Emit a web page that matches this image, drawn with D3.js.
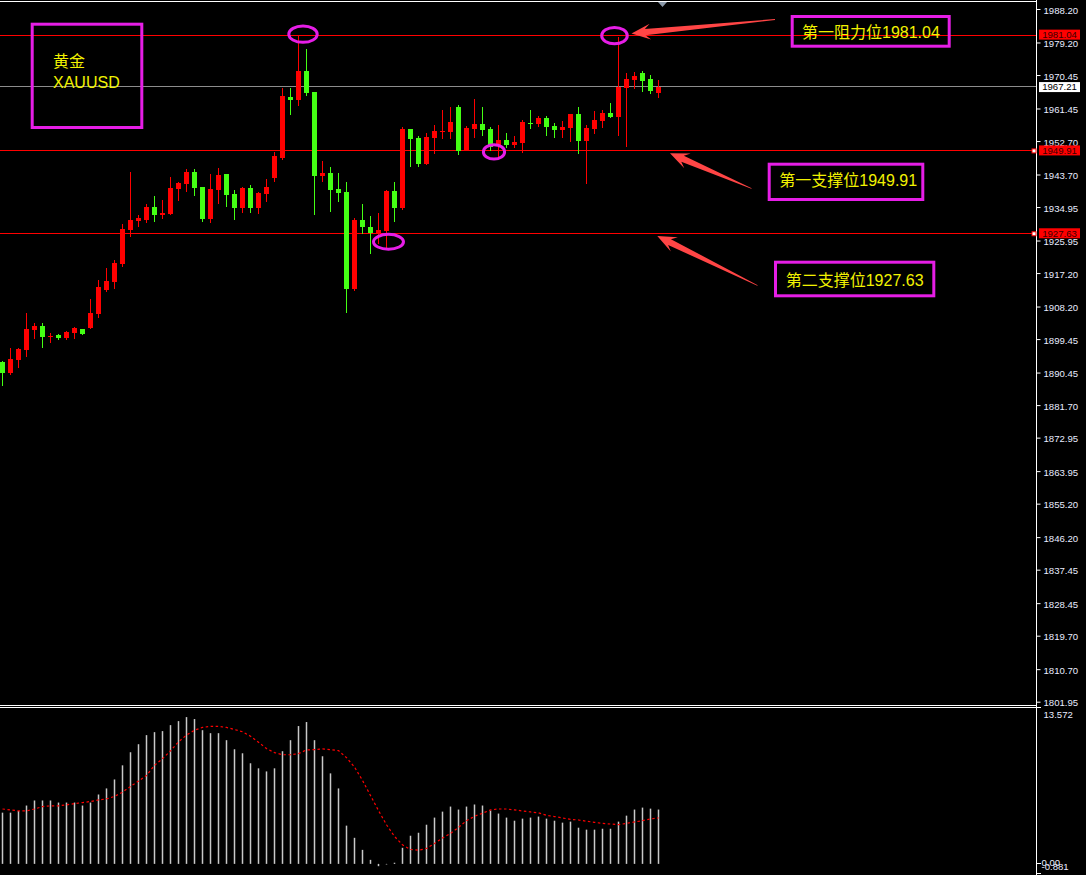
<!DOCTYPE html>
<html><head><meta charset="utf-8">
<script src="https://cdn.jsdelivr.net/npm/d3@7"></script>
<style>html,body{margin:0;padding:0;background:#000;overflow:hidden}</style>
</head><body><svg id="c" width="1086" height="875" xmlns="http://www.w3.org/2000/svg"></svg>
<script>
// ---- data ----
const opens  = [1893.3,1890.4,1893.9,1896.5,1901.9,1903.0,1900.0,1900.55,1899.8,1901.1,1902.2,1902.5,1906.3,1912.65,1914.8,1919.6,1928.8,1931.2,1931.5,1934.96,1932.8,1933.1,1939.8,1941.15,1944.4,1940.3,1931.7,1939.5,1943.8,1938.45,1934.7,1940.1,1934.7,1938.45,1942.76,1948.1,1964.5,1963.7,1971.5,1965.9,1943.3,1944.1,1939.8,1939.0,1912.9,1931.5,1929.6,1928.0,1928.5,1939.3,1934.7,1955.9,1953.5,1946.5,1953.5,1955.1,1955.1,1961.85,1950.0,1955.9,1957.3,1955.9,1951.6,1953.0,1951.6,1952.2,1957.55,1957.3,1958.9,1956.7,1955.7,1956.2,1960.0,1952.7,1955.9,1958.1,1960.2,1959.2,1966.96,1969.1,1971.0,1969.4,1965.6];
const highs  = [1893.6,1897.05,1897.05,1906.5,1903.8,1903.8,1901.1,1900.9,1901.6,1902.7,1902.2,1910.2,1915.3,1918.6,1920.7,1930.4,1944.4,1932.8,1935.8,1937.9,1936.85,1943.0,1941.7,1945.2,1945.2,1940.3,1943.8,1945.4,1943.8,1939.5,1940.3,1940.9,1939.0,1942.5,1949.75,1966.96,1966.96,1981.2,1977.4,1965.9,1947.3,1945.7,1944.1,1941.7,1932.0,1935.8,1932.5,1933.3,1939.5,1941.7,1956.5,1955.9,1954.05,1954.9,1957.0,1961.05,1961.85,1962.4,1956.7,1964.0,1961.85,1956.5,1957.0,1954.9,1954.05,1958.4,1961.05,1959.4,1959.4,1957.55,1958.1,1960.0,1961.85,1957.0,1960.8,1961.05,1962.9,1980.6,1971.0,1971.3,1971.5,1970.5,1969.1];
const lows   = [1886.8,1889.8,1891.8,1894.6,1899.5,1897.05,1898.4,1899.3,1899.3,1899.5,1900.55,1902.2,1905.2,1912.2,1912.9,1918.8,1926.9,1929.6,1930.7,1930.9,1931.7,1932.8,1936.6,1939.0,1937.9,1930.9,1930.65,1935.8,1934.96,1931.5,1933.3,1933.3,1933.1,1936.3,1941.7,1947.6,1959.7,1962.1,1964.8,1932.8,1941.7,1933.6,1936.3,1906.5,1912.4,1927.7,1922.3,1925.0,1923.4,1930.9,1934.15,1945.7,1945.7,1946.3,1949.2,1953.25,1953.25,1948.95,1950.0,1953.5,1954.05,1950.0,1948.1,1950.8,1950.8,1949.5,1955.9,1956.5,1954.05,1953.5,1953.5,1952.4,1949.2,1941.15,1954.6,1956.2,1958.9,1954.05,1951.1,1966.7,1965.9,1965.35,1964.3];
const closes = [1890.4,1894.1,1896.8,1902.2,1903.0,1900.0,1900.4,1899.8,1901.35,1902.4,1900.9,1906.5,1913.45,1915.1,1919.9,1929.05,1931.5,1932.0,1934.96,1932.8,1933.35,1940.1,1941.4,1944.4,1940.1,1931.7,1939.8,1943.56,1938.2,1934.7,1940.1,1934.7,1938.7,1940.3,1948.7,1964.8,1963.7,1971.5,1965.6,1943.3,1944.1,1939.5,1938.7,1912.9,1931.5,1929.6,1928.0,1928.8,1939.3,1934.7,1955.9,1953.2,1946.5,1953.8,1955.4,1955.4,1957.8,1950.0,1956.2,1957.3,1955.7,1951.1,1953.0,1951.6,1952.4,1957.8,1957.4,1958.9,1956.5,1955.7,1956.5,1959.97,1952.7,1956.2,1958.4,1960.2,1959.2,1967.2,1969.4,1970.2,1968.8,1966.15,1967.21];

const macdHist   = [4.46,4.46,4.61,5.08,5.52,5.52,5.52,5.34,5.34,5.34,5.08,5.34,6.04,6.57,7.35,8.58,9.72,10.42,11.21,11.47,11.56,12.08,12.43,12.78,12.61,11.64,11.38,11.38,10.77,9.98,9.63,8.76,8.32,8.05,8.32,9.81,10.77,12.0,12.35,10.77,9.37,7.88,6.57,3.33,2.27,1.22,0.35,-0.2,-0.05,0.1,1.4,2.45,2.71,3.41,4.03,4.55,4.99,4.73,4.99,5.17,5.08,4.64,4.38,4.03,3.76,3.94,4.03,4.12,3.94,3.76,3.59,3.68,3.15,2.98,2.98,3.06,3.06,3.68,4.2,4.73,4.9,4.81,4.73];
const macdSignal = [4.78,4.70,4.61,4.61,4.78,4.99,5.05,5.05,5.14,5.25,5.34,5.43,5.57,5.66,5.87,6.25,6.74,7.21,7.7,8.58,9.16,9.84,10.62,11.21,11.64,11.88,11.97,11.97,11.88,11.7,11.5,11.12,10.59,10.04,9.69,9.5,9.5,9.6,9.92,9.95,10.01,9.95,9.86,9.25,8.43,7.27,5.95,4.64,3.41,2.39,1.66,1.25,1.19,1.34,1.78,2.25,2.66,3.18,3.76,4.14,4.41,4.7,4.78,4.78,4.7,4.61,4.52,4.44,4.23,4.12,4.0,3.88,3.82,3.71,3.62,3.53,3.47,3.41,3.53,3.65,3.76,3.91,4.0];

const priceTicks = [1988.20,1979.20,1970.45,1961.45,1952.70,1943.70,1934.95,1925.95,1917.20,1908.20,1899.45,1890.45,1881.70,1872.95,1863.95,1855.20,1846.20,1837.45,1828.45,1819.70,1810.70,1801.95];
const macdTicks = [13.572, 0, -0.881];
const macdTickLabels = ["13.572","0.00","-0.881"];
const levels = [1981.04, 1949.91, 1927.63];
const levelNames = ["第一阻力位", "第一支撑位", "第二支撑位"];
const lastPrice = 1967.21;
const titleLines = ["黄金", "XAUUSD"];

// ---- scales ----
const n = closes.length;
const x = d3.scaleLinear().domain([0, n - 1]).range([2.5, 2.5 + 8 * (n - 1)]);
const y = d3.scaleLinear().domain([1801.95, 1988.2]).range([701.7, 9]);
const ym = d3.scaleLinear().domain([-0.881, 13.572]).range([874, 708]);

const svg = d3.select("#c");
svg.append("rect").attr("width",1086).attr("height",875).attr("fill","#000");

const UP = "#ff0000", DOWN = "#44ff14", MAG = "#e61ee6", YEL = "#f2f200", ARROW = "#ff4545";
const AX = 1036;

// frame lines
const frame = svg.append("g").attr("shape-rendering","crispEdges");
frame.append("line").attr("x1",0).attr("x2",AX).attr("y1",1.5).attr("y2",1.5).attr("stroke","#fff");
frame.append("line").attr("x1",0).attr("x2",AX).attr("y1",705.5).attr("y2",705.5).attr("stroke","#fff");
frame.append("line").attr("x1",0).attr("x2",AX).attr("y1",707.5).attr("y2",707.5).attr("stroke","#fff");
frame.append("line").attr("x1",AX+0.5).attr("x2",AX+0.5).attr("y1",0).attr("y2",875).attr("stroke","#fff");

// shift triangle
svg.append("path").attr("d", d3.line()([[658,2],[667,2],[662.5,7]])+"Z").attr("fill","#8a98a8");

// level lines
const lv = svg.append("g").attr("shape-rendering","crispEdges");
lv.selectAll("line.lvl").data(levels).join("line")
  .attr("x1",0).attr("x2",AX).attr("y1",d=>Math.round(y(d))-0.5).attr("y2",d=>Math.round(y(d))-0.5)
  .attr("stroke","#ff0000");
lv.append("line").attr("x1",0).attr("x2",AX)
  .attr("y1",Math.round(y(lastPrice))-0.5).attr("y2",Math.round(y(lastPrice))-0.5).attr("stroke","#8c8c8c");

// candles
const idx = d3.range(n);
const cg = svg.append("g").attr("shape-rendering","crispEdges");
cg.selectAll("line.wick").data(idx).join("line")
  .attr("x1",i=>x(i)).attr("x2",i=>x(i))
  .attr("y1",i=>y(highs[i])).attr("y2",i=>y(lows[i]))
  .attr("stroke",i=>closes[i]>=opens[i]?UP:DOWN).attr("stroke-width",1);
cg.selectAll("rect.body").data(idx).join("rect")
  .attr("x",i=>x(i)-2.5).attr("width",5)
  .attr("y",i=>y(Math.max(opens[i],closes[i])))
  .attr("height",i=>Math.max(1.2, y(Math.min(opens[i],closes[i]))-y(Math.max(opens[i],closes[i]))))
  .attr("fill",i=>closes[i]>=opens[i]?UP:DOWN);

// MACD histogram
const mg = svg.append("g");
mg.selectAll("line").data(idx).join("line")
  .attr("x1",i=>x(i)).attr("x2",i=>x(i))
  .attr("y1",ym(0)).attr("y2",i=>ym(macdHist[i]))
  .attr("stroke","#c8c8c8").attr("stroke-width",1.5);
svg.append("path").datum(idx)
  .attr("d", d3.line().x(i=>x(i)).y(i=>ym(macdSignal[i])))
  .attr("fill","none").attr("stroke","#ff0000").attr("stroke-width",1.2).attr("stroke-dasharray","2.5,2.5");

// price axis
const axisG = svg.append("g").attr("transform",`translate(${AX+0.5},0)`)
  .call(d3.axisRight(y).tickValues(priceTicks).tickSize(4).tickPadding(3).tickFormat(d3.format(".2f")));
axisG.select(".domain").remove();
axisG.selectAll(".tick line").attr("stroke","#fff");
axisG.selectAll(".tick text").attr("fill","#e8ecff").attr("font-family","Liberation Sans, Arial, sans-serif").attr("font-size","9.6px").attr("dy","0.42em");

// macd axis labels
const mAx = svg.append("g").attr("transform",`translate(${AX+0.5},0)`);
const mOff = [7, -1, -7.5];
macdTicks.forEach((v,k)=>{
  mAx.append("line").attr("x1",0).attr("x2",4).attr("y1",Math.round(ym(v))-0.5).attr("y2",Math.round(ym(v))-0.5).attr("stroke","#fff").attr("shape-rendering","crispEdges");
  mAx.append("text").attr("x", k===0?7:5).attr("y", ym(v)+mOff[k]).attr("dy","0.35em")
    .attr("fill","#e8ecff").attr("font-family","Liberation Sans, Arial, sans-serif").attr("font-size","9.6px").text(macdTickLabels[k]);
});

// level price labels on axis
const lab = svg.append("g");
levels.forEach(v=>{
  lab.append("rect").attr("x",1039).attr("y",y(v)-6).attr("width",41).attr("height",10).attr("fill","#ff0000");
  lab.append("text").attr("x",1059.5).attr("y",y(v)-1).attr("dy","0.35em").attr("text-anchor","middle")
    .attr("fill","#3a0000").attr("font-family","Liberation Sans, Arial, sans-serif").attr("font-size","9.6px").text(v.toFixed(2));
});
lab.append("rect").attr("x",1039).attr("y",y(lastPrice)-5).attr("width",41).attr("height",10).attr("fill","#ffffff");
lab.append("text").attr("x",1059.5).attr("y",y(lastPrice)).attr("dy","0.35em").attr("text-anchor","middle")
  .attr("fill","#000").attr("font-family","Liberation Sans, Arial, sans-serif").attr("font-size","9.6px").text(lastPrice.toFixed(2));
[levels[1], levels[2]].forEach(v=>{
  lab.append("rect").attr("x",1032).attr("y",y(v)-2.5).attr("width",4).attr("height",4)
    .attr("fill","#fff").attr("stroke","#ff0000").attr("stroke-width",1);
});

// annotations
const an = svg.append("g");
an.append("rect").attr("x",32.2).attr("y",24.2).attr("width",109.6).attr("height",103.3)
  .attr("fill","none").attr("stroke",MAG).attr("stroke-width",3);
an.append("text").attr("x",53).attr("y",67).attr("fill",YEL).attr("font-family","Liberation Sans, Noto Sans CJK SC, sans-serif").attr("font-size","16px").text(titleLines[0]);
an.append("text").attr("x",53).attr("y",87.7).attr("fill",YEL).attr("font-family","Liberation Sans, Noto Sans CJK SC, sans-serif").attr("font-size","16px").text(titleLines[1]);

const boxes = [
  {x:792.2,y:16.5,w:157,h:29.7,tx:802,ty:37.5},
  {x:769.2,y:164.2,w:153.6,h:35.3,tx:779.3,ty:186},
  {x:775.5,y:262.2,w:158.3,h:33.6,tx:785.7,ty:286}
];
boxes.forEach((b,k)=>{
  an.append("rect").attr("x",b.x).attr("y",b.y).attr("width",b.w).attr("height",b.h)
    .attr("fill","none").attr("stroke",MAG).attr("stroke-width",3);
  an.append("text").attr("x",b.tx).attr("y",b.ty).attr("fill",YEL)
    .attr("font-family","Liberation Sans, Noto Sans CJK SC, sans-serif").attr("font-size","16px")
    .text(levelNames[k] + levels[k].toFixed(2));
});

function arrowPath(tail, tip, L, hw, sw, tw){
  const dx = tip[0]-tail[0], dy = tip[1]-tail[1], len = Math.hypot(dx,dy);
  const ux = dx/len, uy = dy/len, nx = -uy, ny = ux;
  const P = (d, s) => [tip[0]-ux*d+nx*s, tip[1]-uy*d+ny*s];
  const pts = [tip, P(L, hw), P(L*0.72, sw), [tail[0]+nx*tw, tail[1]+ny*tw], [tail[0]-nx*tw, tail[1]-ny*tw], P(L*0.72, -sw), P(L, -hw)];
  return d3.line()(pts) + "Z";
}
const arrows = [
  {tail:[775,19.5], tip:[631.5,33.5]},
  {tail:[751.5,188.5], tip:[670,153.3]},
  {tail:[757.5,285.5], tip:[657.3,236]}
];
arrows.forEach(a=>{
  an.append("path").attr("d",arrowPath(a.tail,a.tip,19,8,3.2,0.4)).attr("fill",ARROW);
});

const ellipses = [
  {cx:x(37)+4.5, cy:y(levels[0])-1.5, rx:14.2, ry:8.2},
  {cx:x(77)-4, cy:y(levels[0]), rx:12.8, ry:8.2},
  {cx:x(48)+2, cy:y(levels[2])+7.5, rx:15, ry:7.4},
  {cx:x(62)-4.5, cy:y(levels[1])+0.5, rx:10.6, ry:7.2}
];
ellipses.forEach(e=>{
  an.append("ellipse").attr("cx",e.cx).attr("cy",e.cy).attr("rx",e.rx).attr("ry",e.ry)
    .attr("fill","none").attr("stroke",MAG).attr("stroke-width",3);
});
</script>
</body></html>
